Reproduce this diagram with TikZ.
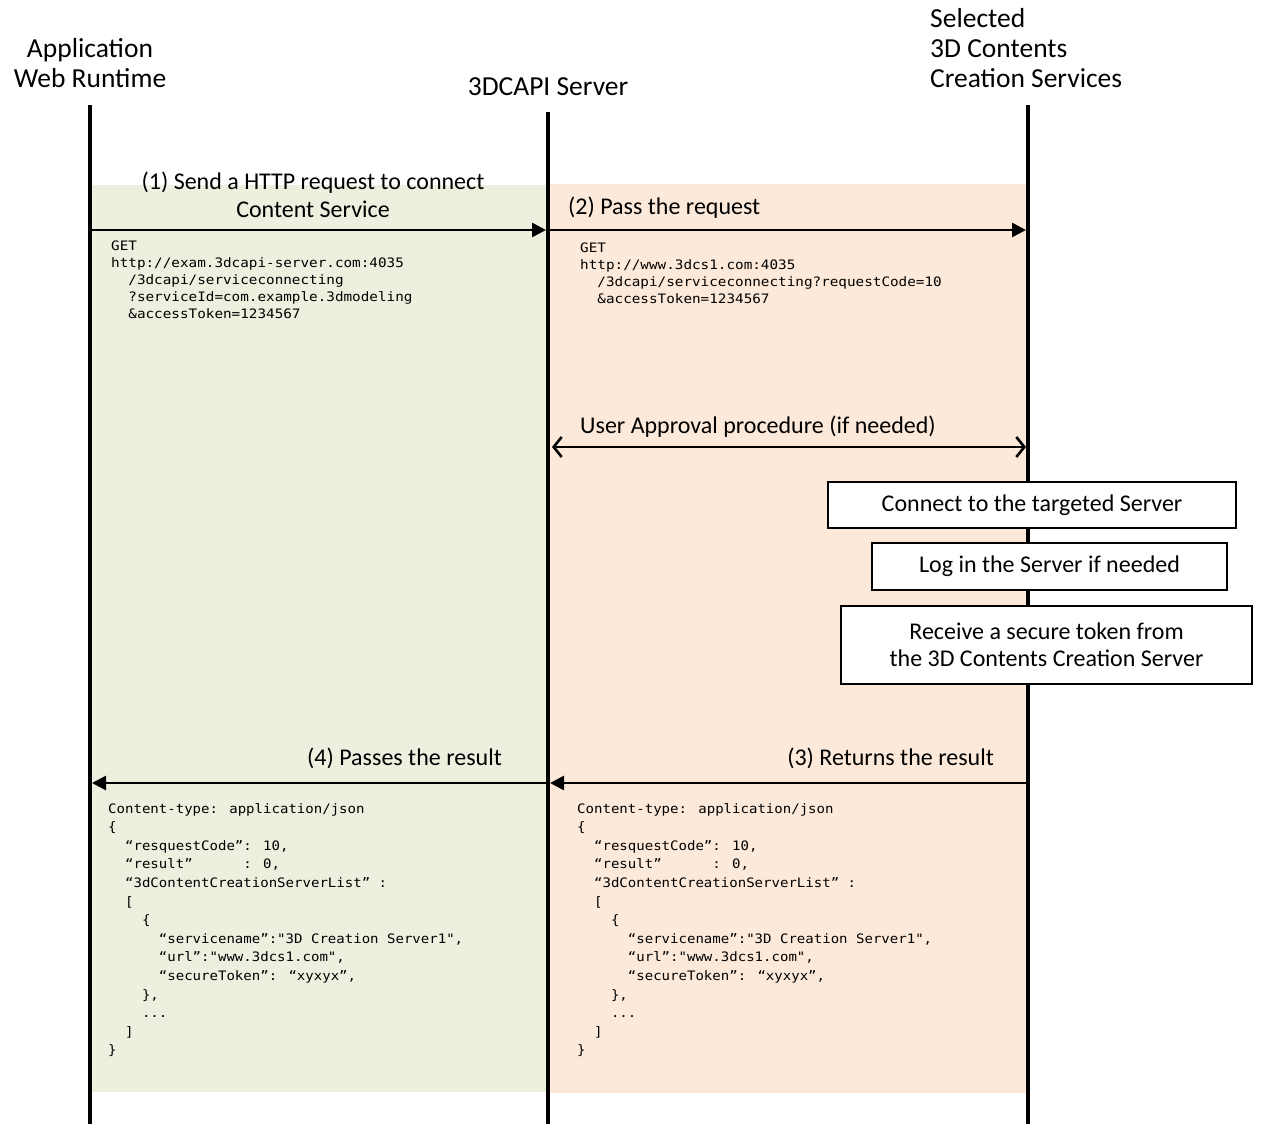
\documentclass[tikz,border=0pt]{standalone}
\usepackage{fontspec}
\setmainfont{Carlito}
\newfontfamily\codefont{DejaVu Sans Mono}[FakeStretch=1.1]
\newfontfamily\jsonfont{DejaVu Sans Mono}[FakeStretch=1.08]
\usetikzlibrary{arrows.meta}
\definecolor{greenbg}{HTML}{EBF1DE}
\definecolor{orangebg}{HTML}{FDE9D9}
\begin{document}
\begin{tikzpicture}[x=1pt,y=-1pt,
  hdr/.style={font=\fontsize{27.5}{30}\selectfont, align=center, inner sep=0},
  lbl/.style={font=\fontsize{24}{28}\selectfont, inner sep=0},
  lifeline/.style={line width=4pt},
  msg/.style={line width=2.6pt,-{Triangle[length=14pt,width=14pt]}},
  dmsg/.style={line width=2.6pt,{Straight Barb[length=8pt,width=20pt,line width=2.6pt]}-{Straight Barb[length=8pt,width=20pt,line width=2.6pt]}},
  code/.style={font=\fontsize{13}{17}\codefont, align=left, anchor=north west, inner sep=0},
  json/.style={font=\fontsize{13}{18.6}\jsonfont, align=left, anchor=north west, inner sep=0},
  actbox/.style={draw, line width=1.3pt, fill=white, font=\fontsize{24}{27}\selectfont, align=center, inner sep=0}
]
\useasboundingbox (0,0) rectangle (1265,1124);
% backgrounds
\fill[greenbg] (90,185) rectangle (548,1092);
\fill[orangebg] (548,184) rectangle (1028,1093);
% headers
\node[hdr] (app) at (90,63) {Application\\Web Runtime};
\node[hdr] (srv) at (548,87) {3DCAPI Server};
\node[hdr, align=left, anchor=west] (sel) at (930,48) {Selected\\3D Contents\\Creation Services};
% lifelines
\coordinate (aTop) at (90,105);  \coordinate (aBot) at (90,1124);
\coordinate (sTop) at (548,112); \coordinate (sBot) at (548,1124);
\coordinate (cTop) at (1028,105); \coordinate (cBot) at (1028,1124);
\draw[lifeline] (aTop) -- (aBot);
\draw[lifeline] (sTop) -- (sBot);
\draw[lifeline] (cTop) -- (cBot);
% message 1 and 2
\coordinate (m1s) at (92,230); \coordinate (m1e) at (546,230);
\coordinate (m2s) at (550,230); \coordinate (m2e) at (1026,230);
\draw[msg] (m1s) -- (m1e);
\draw[msg] (m2s) -- (m2e);
\node[lbl, align=center] (l1) at (313,195) {(1) Send a HTTP request to connect\\Content Service};
\node[lbl, anchor=west] (l2) at (568,208) {(2) Pass the request};
\node[code] (c1) at (111,241) {GET\\http://exam.3dcapi-server.com:4035\\\phantom{xx}/3dcapi/serviceconnecting\\\phantom{xx}?serviceId=com.example.3dmodeling\\\phantom{xx}\&accessToken=1234567};
\node[code] (c2) at (580,243) {GET\\http://www.3dcs1.com:4035\\\phantom{xx}/3dcapi/serviceconnecting?requestCode=10\\\phantom{xx}\&accessToken=1234567};
% user approval
\coordinate (uaS) at (552,447); \coordinate (uaE) at (1026,447);
\draw[dmsg] (uaS) -- (uaE);
\node[lbl, anchor=west] (lua) at (580,427) {User Approval procedure (if needed)};
% boxes
\node[actbox, minimum width=408pt, minimum height=46pt] (b1) at (1032,505) {Connect to the targeted Server};
\node[actbox, minimum width=355pt, minimum height=47pt] (b2) at (1049.5,566.5) {Log in the Server if needed};
\node[actbox, minimum width=411pt, minimum height=78pt] (b3) at (1046.5,645) {Receive a secure token from\\the 3D Contents Creation Server};
% message 3 and 4
\coordinate (m3s) at (1026,783); \coordinate (m3e) at (550,783);
\coordinate (m4s) at (546,783); \coordinate (m4e) at (92,783);
\draw[msg] (m3s) -- (m3e);
\draw[msg] (m4s) -- (m4e);
\node[lbl, anchor=east] (l3) at (994,758) {(3) Returns the result};
\node[lbl, anchor=east] (l4) at (502,758) {(4) Passes the result};
\node[json] (j1) at (108,803) {Content-type: application/json\\\{\\\phantom{xx}“resquestCode”: 10,\\\phantom{xx}“result”\phantom{xxxxxx}: 0,\\\phantom{xx}“3dContentCreationServerList” :\\\phantom{xx}[\\\phantom{xxxx}\{\\\phantom{xxxxxx}“servicename”:"3D Creation Server1",\\\phantom{xxxxxx}“url”:"www.3dcs1.com",\\\phantom{xxxxxx}“secureToken”: “xyxyx”,\\\phantom{xxxx}\},\\\phantom{xxxx}...\\\phantom{xx}]\\\}};
\node[json] (j2) at (577,803) {Content-type: application/json\\\{\\\phantom{xx}“resquestCode”: 10,\\\phantom{xx}“result”\phantom{xxxxxx}: 0,\\\phantom{xx}“3dContentCreationServerList” :\\\phantom{xx}[\\\phantom{xxxx}\{\\\phantom{xxxxxx}“servicename”:"3D Creation Server1",\\\phantom{xxxxxx}“url”:"www.3dcs1.com",\\\phantom{xxxxxx}“secureToken”: “xyxyx”,\\\phantom{xxxx}\},\\\phantom{xxxx}...\\\phantom{xx}]\\\}};
\end{tikzpicture}
\end{document}
